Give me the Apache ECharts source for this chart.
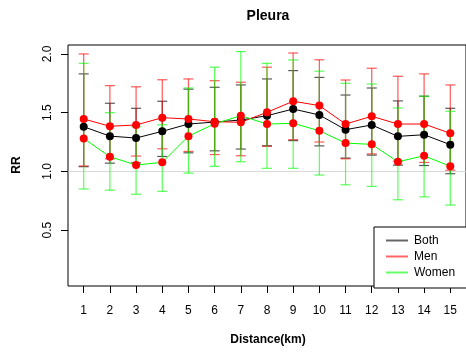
<!DOCTYPE html>
<html>
<head>
<meta charset="utf-8">
<script src="https://cdn.jsdelivr.net/npm/echarts@6/dist/echarts.min.js"></script>
<style>
html,body{margin:0;padding:0;background:#fff;}
#chart{width:466px;height:354px;}
</style>
</head>
<body>
<div id="chart"></div>
<script>
var distance = [1,2,3,4,5,6,7,8,9,10,11,12,13,14,15];
var yTicks = [0.5,1.0,1.5,2.0];

var bothRR   = [1.38,1.30,1.284,1.341,1.403,1.42,1.437,1.474,1.531,1.48,1.355,1.395,1.298,1.312,1.227];
var bothLow  = [1.04,1.07,1.073,1.127,1.158,1.175,1.19,1.218,1.262,1.217,1.113,1.138,1.053,1.05,0.98];
var bothHigh = [1.83,1.58,1.537,1.597,1.70,1.716,1.736,1.787,1.858,1.80,1.65,1.71,1.60,1.64,1.537];

var menRR   = [1.446,1.384,1.395,1.457,1.446,1.423,1.418,1.503,1.597,1.56,1.403,1.469,1.403,1.403,1.324];
var menLow  = [1.046,1.107,1.13,1.192,1.17,1.143,1.133,1.213,1.27,1.25,1.107,1.149,1.088,1.076,1.01];
var menHigh = [2.0,1.73,1.72,1.78,1.787,1.772,1.759,1.887,2.008,1.95,1.778,1.878,1.81,1.83,1.736];

var womenRR   = [1.28,1.125,1.054,1.077,1.30,1.405,1.474,1.403,1.409,1.346,1.241,1.23,1.082,1.133,1.043];
var womenLow  = [0.85,0.84,0.805,0.83,0.985,1.043,1.082,1.026,1.026,0.969,0.886,0.872,0.758,0.783,0.713];
var womenHigh = [1.92,1.50,1.38,1.397,1.71,1.887,2.02,1.92,1.949,1.853,1.75,1.744,1.54,1.64,1.512];

var FONT = "'Liberation Sans', Arial, Helvetica, sans-serif";

function pairs(ys){ return distance.map(function(d,i){ return [d, ys[i]]; }); }
function triples(lo, hi){ return distance.map(function(d,i){ return [d, lo[i], hi[i]]; }); }

function errorSeries(name, lo, hi, color){
  return {
    name: name, type: 'custom', silent: true, z: 2,
    data: triples(lo, hi),
    encode: {x: 0, y: [1, 2]},
    renderItem: function(params, api){
      var x = api.value(0);
      var a = api.coord([x, api.value(1)]);
      var b = api.coord([x, api.value(2)]);
      var w = 5;
      var st = {stroke: color, lineWidth: 1.2};
      return {type: 'group', children: [
        {type: 'line', shape: {x1: a[0], y1: a[1], x2: b[0], y2: b[1]}, style: st},
        {type: 'line', shape: {x1: a[0]-w, y1: a[1], x2: a[0]+w, y2: a[1]}, style: st},
        {type: 'line', shape: {x1: b[0]-w, y1: b[1], x2: b[0]+w, y2: b[1]}, style: st}
      ]};
    }
  };
}

function lineSeries(name, ys, lineColor, pointColor, extra){
  var s = {
    name: name, type: 'line', z: 5,
    data: pairs(ys),
    symbol: 'circle', symbolSize: 8,
    lineStyle: {color: lineColor, width: 1},
    itemStyle: {color: pointColor, borderWidth: 0},
    emphasis: {disabled: true},
    animation: false
  };
  if (extra) for (var k in extra) s[k] = extra[k];
  return s;
}

var chart = echarts.init(document.getElementById('chart'), null, {renderer: 'canvas'});
chart.setOption({
  animation: false,
  backgroundColor: '#fff',
  textStyle: {fontFamily: FONT},
  grid: {left: 68, top: 45, width: 401, height: 241, show: true, borderColor: '#000', borderWidth: 1, backgroundColor: 'transparent'},
  xAxis: {
    type: 'value', min: 0.4, max: 15.6,
    axisLine: {show: false},
    splitLine: {show: false},
    axisTick: {show: true, length: 7, lineStyle: {color: '#000'}, customValues: distance},
    axisLabel: {fontSize: 12, color: '#000', margin: 19, fontFamily: FONT, customValues: distance}
  },
  yAxis: {
    type: 'value', min: 0.024, max: 2.076,
    axisLine: {show: false},
    splitLine: {show: false},
    axisTick: {show: true, length: 7, lineStyle: {color: '#000'}, customValues: yTicks},
    axisLabel: {fontSize: 12, color: '#000', margin: 14, rotate: 90, fontFamily: FONT,
      customValues: yTicks, formatter: function(v){ return v.toFixed(1); }}
  },
  legend: {
    orient: 'vertical', left: 374, top: 227,
    padding: [6, 40, 8, 12],
    backgroundColor: '#fff', borderColor: '#000', borderWidth: 1, borderRadius: 0,
    itemWidth: 22, itemHeight: 2, itemGap: 1, icon: 'rect',
    textStyle: {fontSize: 12, color: '#000', fontFamily: FONT, lineHeight: 15, padding: [0,0,0,1]},
    data: [
      {name: 'Both', itemStyle: {color: 'rgba(0,0,0,0.6)'}},
      {name: 'Men', itemStyle: {color: 'rgba(255,0,0,0.6)'}},
      {name: 'Women', itemStyle: {color: 'rgba(0,255,0,0.6)'}}
    ],
    selectedMode: false
  },
  graphic: [
    {type: 'text', x: 268, y: 16, style: {text: 'Pleura', font: 'bold 14px ' + FONT, fill: '#000', textAlign: 'center', textVerticalAlign: 'middle'}, z: 10},
    {type: 'text', x: 268, y: 340, style: {text: 'Distance(km)', font: 'bold 12px ' + FONT, fill: '#000', textAlign: 'center', textVerticalAlign: 'middle'}, z: 10},
    {type: 'text', x: 17, y: 165, rotation: Math.PI/2, style: {text: 'RR', font: 'bold 12px ' + FONT, fill: '#000', textAlign: 'center', textVerticalAlign: 'middle'}, z: 10}
  ],
  series: [
    lineSeries('Both', bothRR, '#000', '#000', {
      markLine: {silent: true, symbol: 'none', label: {show: false}, z: 1,
        lineStyle: {color: '#d9d9d9', type: 'solid', width: 1}, data: [{yAxis: 1}]}
    }),
    errorSeries('Both CI', bothLow, bothHigh, 'rgba(0,0,0,0.65)'),
    errorSeries('Men CI', menLow, menHigh, 'rgba(255,0,0,0.65)'),
    errorSeries('Women CI', womenLow, womenHigh, 'rgba(0,255,0,0.65)'),
    lineSeries('Men', menRR, '#ff0000', '#ff0000'),
    lineSeries('Women', womenRR, '#00ff00', '#ff0000')
  ]
});
</script>
</body>
</html>
